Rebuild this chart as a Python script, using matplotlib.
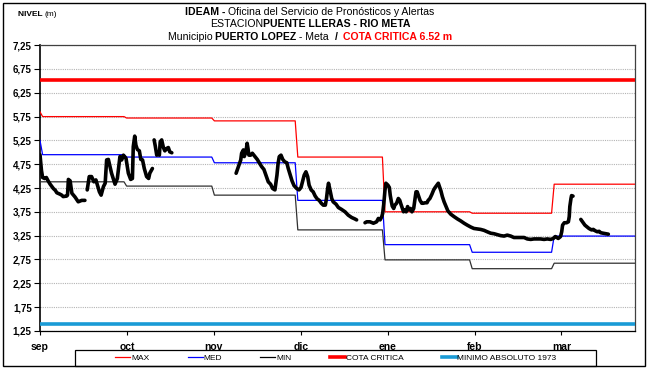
import numpy as np
import matplotlib
matplotlib.use("Agg")
import matplotlib.pyplot as plt
from matplotlib.lines import Line2D
from matplotlib.patches import Rectangle
from matplotlib.offsetbox import TextArea, HPacker, AnnotationBbox

NARROW = ["Liberation Sans Narrow", "Liberation Sans", "DejaVu Sans"]
plt.rcParams["font.family"] = ["Liberation Sans", "DejaVu Sans"]

# --- data -------------------------------------------------------------
months = ["sep", "oct", "nov", "dic", "ene", "feb", "mar"]
month_tick = [0, 30, 60, 90, 120, 150, 180]
change_day = [29.0, 59.3, 88.1, 118.2, 148.3, 176.6]

max_first = 5.85
max_month = [5.75, 5.72, 5.66, 4.90, 3.75, 3.72, 4.33]
med_first = 5.25
med_month = [4.95, 4.90, 4.78, 3.99, 3.06, 2.90, 3.24]
min_first = 4.38
min_month = [4.38, 4.29, 4.10, 3.37, 2.74, 2.555, 2.67]

cota_critica = 6.52
minimo_1973 = 1.40

nan = np.nan
obs_day = [
    0.0, 0.5, 0.9, 1.6, 2.2, 2.8, 3.5, 4.6, 5.3, 5.8, 6.9, 7.5, 8.0, 9.2, 9.5,
    9.8, 10.4, 11.0, 12.1, 13.2, 14.4, 15.5, nan,
    16.3, 17.0, 17.8, 18.6, 19.3, 20.5, 21.1, 21.9, 22.5, 23.0, 23.6, 24.7,
    25.9, 26.7, 27.6, 28.2, 28.8, 29.7, 30.5, 31.3, 31.9, 32.2, 32.7, 33.1,
    33.6, 34.3, 34.8, 35.4, 36.0, 36.8, 37.5, 37.9, 38.8, nan,
    39.4, 39.8, 40.3, nan,
    41.2, 41.5, 42.0, 42.6, 43.1, 43.7, 44.3, 44.8, 45.5, nan,
    67.7, 68.5, 69.3, 69.6, 70.2, 70.5, 71.1, 71.5, 71.8, 72.1, 72.7, 73.3,
    74.2, 75.0, 75.7, 76.5, 77.3, 78.0, 78.8, 79.6, 80.3, 81.1, 81.5, 81.8,
    82.2, 82.6, 83.2, 83.8, 84.5, 85.2, 85.7, 86.3, 87.0, 87.7, 88.6, 89.4,
    90.1, 90.6, 91.2, 91.8, 92.4, 92.9, 93.6, 94.3, 95.0, 95.7, 96.4, 97.1,
    97.8, 98.5, 98.9, 99.3, 99.6, 100.1, 100.7, 101.2, 102.2, 103.0, 104.1,
    105.3, 106.4, 107.6, 108.7, 109.3, nan,
    112.2, 112.8, 113.9, 115.1, 116.2, 116.8, 117.4, 118.0, 118.3, 118.7,
    119.1, 119.4, 120.1, 120.6, 120.9, 121.3, 121.6, 122.1, 122.5, 123.1,
    123.7, 124.2, 124.6, 125.1, 125.5, 126.0, 126.4, 126.9, 127.4, 127.9,
    128.4, 129.0, 129.4, 129.8, 130.2, 130.7, 131.2, 131.8, 132.3, 133.0,
    133.6, 134.0, 134.6, 135.3, 135.9, 136.4, 137.0, 137.5, 138.0, 138.4,
    138.9, 139.5, 140.2, 140.8, 141.8, 142.9, 144.1, 145.2, 146.4, 147.5,
    148.7, 149.8, 151.0, 152.1, 153.3, 154.4, 155.6, 156.7, 157.9, 159.0,
    160.2, 161.3, 162.5, 163.6, 164.8, 165.9, 167.1, 168.2, 169.4, 170.5,
    171.7, 172.8, 174.0, 175.1, 176.3, 177.2, 177.9, 178.9, 179.7, 180.1,
    180.4, 181.0, 181.8, 182.4, 182.7, 182.9, 183.3, 183.5, 184.0, nan,
    186.7, 187.3, 188.1, 188.7, 189.5, 190.4, 191.0, 191.7, 192.4, 193.0,
    193.6, 194.4, 195.4, 196.2,
]
obs_level = [
    4.95, 4.62, 4.47, 4.45, 4.47, 4.40, 4.33, 4.24, 4.20, 4.15, 4.12, 4.10,
    4.07, 4.08, 4.10, 4.43, 4.40, 4.14, 4.06, 3.96, 3.99, 3.99, nan,
    4.21, 4.49, 4.49, 4.38, 4.42, 4.17, 4.10, 4.28, 4.35, 4.84, 4.85, 4.56,
    4.33, 4.45, 4.91, 4.84, 4.94, 4.87, 4.56, 4.43, 4.45, 5.12, 5.34, 5.15,
    5.06, 5.03, 4.85, 4.84, 4.66, 4.49, 4.45, 4.56, 4.66, nan,
    5.26, 5.13, 4.94, nan,
    4.94, 5.22, 5.26, 5.10, 5.03, 5.08, 5.10, 5.01, 4.99, nan,
    4.56, 4.70, 4.84, 4.98, 5.05, 4.91, 5.01, 5.19, 5.08, 4.94, 4.94, 4.98,
    4.91, 4.85, 4.78, 4.70, 4.64, 4.52, 4.38, 4.33, 4.24, 4.21, 4.38, 4.52,
    4.77, 4.91, 4.94, 4.85, 4.80, 4.78, 4.66, 4.54, 4.40, 4.30, 4.24, 4.21,
    4.26, 4.38, 4.52, 4.59, 4.49, 4.31, 4.21, 4.17, 4.08, 4.02, 3.99, 3.93,
    3.89, 3.89, 4.03, 4.24, 4.35, 4.21, 4.03, 3.96, 3.91, 3.84, 3.80,
    3.75, 3.68, 3.63, 3.60, 3.58, nan,
    3.52, 3.54, 3.54, 3.51, 3.54, 3.61, 3.58, 3.65, 3.72, 3.93,
    4.21, 4.35, 4.31, 4.26, 4.10, 3.96, 3.87, 3.82, 3.89, 3.93,
    4.03, 3.99, 3.91, 3.82, 3.75, 3.79, 3.75, 3.86, 3.79, 3.82,
    3.75, 3.82, 3.99, 4.17, 4.17, 4.08, 3.99, 3.93, 3.93, 3.94,
    3.94, 3.99, 4.03, 4.12, 4.21, 4.26, 4.31, 4.35, 4.26, 4.19,
    4.07, 3.96, 3.86, 3.77, 3.70, 3.65, 3.60, 3.56, 3.51, 3.47,
    3.43, 3.40, 3.39, 3.38, 3.36, 3.33, 3.30, 3.29, 3.27, 3.25,
    3.24, 3.26, 3.24, 3.21, 3.21, 3.21, 3.21, 3.18, 3.17, 3.18,
    3.18, 3.18, 3.17, 3.18, 3.17, 3.19, 3.23, 3.19, 3.23, 3.33,
    3.47, 3.52, 3.52, 3.54, 3.65, 3.86, 4.03, 4.09, 4.08, nan,
    3.59, 3.54, 3.47, 3.44, 3.40, 3.37, 3.38, 3.35, 3.33, 3.34,
    3.31, 3.30, 3.29, 3.28,
]

X_END = 205.4
RAMP = 0.9


def monthly_line(first, values):
    """Monthly reference level as a stepped polyline with short ramps."""
    xs, ys = [0.0, RAMP], [first, values[0]]
    for day, prev, nxt in zip(change_day, values[:-1], values[1:]):
        xs += [day, day + RAMP]
        ys += [prev, nxt]
    xs.append(X_END)
    ys.append(values[-1])
    return xs, ys


# --- figure -----------------------------------------------------------
W, H = 648, 368
fig = plt.figure(figsize=(W / 100, H / 100), dpi=100)


def fx(px):
    return px / W


def fy(py):
    return 1 - py / H


ax = fig.add_axes([fx(40), fy(330.8), fx(635) - fx(40), fy(45.2) - fy(330.8)])

ax.axhline(cota_critica, color="#ff0000", lw=2.6, zorder=3)
ax.axhline(minimo_1973, color="#1a9bd6", lw=2.6, zorder=3)

for first, vals, col in [(max_first, max_month, "#ff0000"),
                         (med_first, med_month, "#0000ff"),
                         (min_first, min_month, "#303030")]:
    xs, ys = monthly_line(first, vals)
    ax.plot(xs, ys, color=col, lw=0.9, zorder=4)

ax.plot(obs_day, obs_level, color="black", lw=2.6, zorder=5,
        solid_joinstyle="round", solid_capstyle="round")

ax.set_xlim(0, X_END)
ax.set_ylim(1.25, 7.25)
yt = np.arange(1.25, 7.26, 0.5)
ax.set_yticks(yt)
ax.set_yticklabels([f"{v:.2f}".replace(".", ",") for v in yt],
                   fontsize=7, fontweight="bold")
ax.set_xticks(month_tick)
ax.set_xticklabels(months, fontsize=7.5, fontweight="bold")
ax.tick_params(axis="y", direction="out", length=4, width=0.8, pad=2)
ax.tick_params(axis="x", direction="out", length=3, width=0.8, pad=5)
ax.yaxis.grid(True, linestyle=(0, (1, 1)), color="#b4b4b4", lw=0.8)
ax.set_axisbelow(True)
for side, sp in ax.spines.items():
    sp.set_color("black" if side in ("left", "bottom") else "#404040")
    sp.set_linewidth(1.2 if side == "left" else 0.9)

# --- titles -----------------------------------------------------------
def title_line(parts, y, size=7.6):
    boxes = [TextArea(t, textprops=dict(fontsize=size, fontweight=w,
                                        color=c, family=NARROW))
             for t, w, c in parts]
    pack = HPacker(children=boxes, align="baseline", pad=0, sep=0)
    ab = AnnotationBbox(pack, (fx(310), fy(y)), xycoords="figure fraction",
                        frameon=False, box_alignment=(0.5, 0.5), pad=0)
    fig.add_artist(ab)


title_line([("IDEAM - ", "bold", "black"),
            ("Oficina del Servicio de Pronósticos y Alertas", "normal", "black")], 12)
title_line([("ESTACION", "normal", "black"),
            ("PUENTE LLERAS - RIO META", "bold", "black")], 24)
title_line([("Municipio ", "normal", "black"),
            ("PUERTO LOPEZ", "bold", "black"),
            (" - Meta  ", "normal", "black"),
            ("/  ", "bold", "black"),
            ("COTA CRITICA 6.52 m", "bold", "#ff0000")], 37)

nivel = HPacker(children=[
    TextArea("NIVEL ", textprops=dict(fontsize=6, fontweight="bold", family=NARROW)),
    TextArea("(m)", textprops=dict(fontsize=6, family=NARROW))],
    align="baseline", pad=0, sep=0)
fig.add_artist(AnnotationBbox(nivel, (fx(18), fy(14)), xycoords="figure fraction",
                              frameon=False, box_alignment=(0, 0.5), pad=0))

# --- legend -----------------------------------------------------------
handles = [
    Line2D([], [], color="#ff0000", lw=0.9),
    Line2D([], [], color="#0000ff", lw=0.9),
    Line2D([], [], color="black", lw=0.9),
    Line2D([], [], color="#ff0000", lw=2.6),
    Line2D([], [], color="#1a9bd6", lw=2.6),
]
labels = ["MAX", "MED", "MIN", "COTA CRITICA", "MINIMO ABSOLUTO 1973"]
fig.legend(handles, labels, loc="center", bbox_to_anchor=(fx(336), fy(358)),
           ncol=5, frameon=False, prop=dict(family=NARROW, size=6),
           handlelength=1.8, handletextpad=0.1, columnspacing=4.6,
           borderpad=0)
fig.add_artist(Rectangle((fx(75), fy(366)), fx(596) - fx(75), fy(350) - fy(366),
                         transform=fig.transFigure, fill=False, ec="black", lw=0.9))
fig.add_artist(Rectangle((fx(3), fy(366)), fx(645) - fx(3), fy(3) - fy(366),
                         transform=fig.transFigure, fill=False, ec="black", lw=1.0))

fig.savefig("out.png", dpi=100)
